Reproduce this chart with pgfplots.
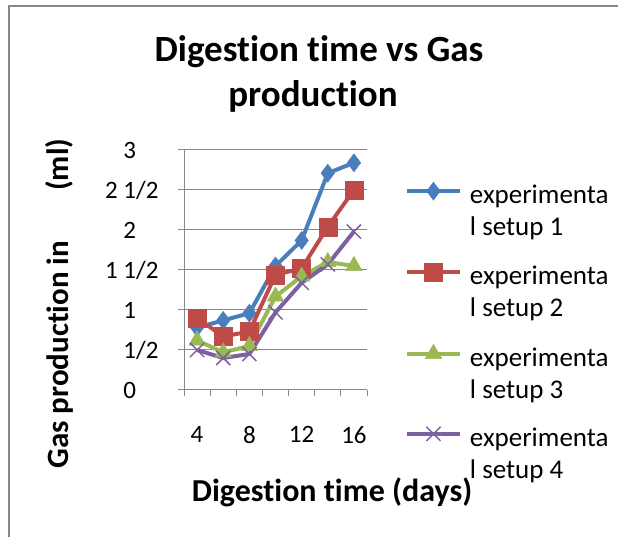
\documentclass[border=0pt]{standalone}
\usepackage{fontspec}
\setmainfont[Ligatures=NoCommon]{Carlito}
\usepackage{pgfplots}
\pgfplotsset{compat=1.18}
\definecolor{s1}{HTML}{4A7EBB}
\definecolor{s2}{HTML}{BE4B48}
\definecolor{s3}{HTML}{98B954}
\definecolor{s4}{HTML}{7D60A0}
\definecolor{gridc}{HTML}{878787}
\begin{document}
\begin{tikzpicture}
\useasboundingbox (0pt,0pt) rectangle (618pt,537pt);
\draw[gridc, line width=1.5pt] (9pt,0pt) -- (9pt,531pt) -- (618pt,531pt);
\node[font=\fontsize{37}{40}\bfseries, anchor=base] at (319pt,475pt) {Digestion time vs Gas};
\node[font=\fontsize{37}{40}\bfseries, anchor=base] at (313pt,430pt) {production};
\begin{axis}[
  at={(184pt,147pt)}, anchor=south west,
  width=183pt, height=240pt, scale only axis,
  xmin=3, xmax=17, ymin=0, ymax=3,
  axis lines*=left,
  axis line style={gridc, line width=1pt},
  xtick={3,5,...,17}, xticklabels={},
  extra x ticks={4,8,12,16}, extra x tick labels={4,8,12,16},
  extra x tick style={major tick length=0pt, grid=none, xticklabel style={yshift=-33pt}},
  ytick={0,0.5,...,3}, yticklabels={0\phantom{/2},1/2,1\phantom{/2},1 1/2,2\phantom{/2},2 1/2,3\phantom{/2}},
  ymajorgrids, grid style={gridc, line width=1pt},
  tick align=outside, major tick length=6pt, tick style={gridc, line width=1pt},
  tick label style={font=\fontsize{25}{29}\selectfont, text=black},
  yticklabel style={anchor=east, xshift=-16pt},
  xlabel={Digestion time (days)},
  xlabel style={font=\fontsize{32}{36}\bfseries, at={(axis description cs:0.809,-0.425)}, anchor=center},
  ylabel={Gas production in\hspace{50pt}(ml)},
  ylabel style={font=\fontsize{31}{35}\bfseries, at={(axis description cs:-0.68,0.36)}, anchor=center},
  legend style={at={(axis description cs:1.19,0.875)}, anchor=north west, draw=none, fill=none,
    font=\fontsize{27}{32}\selectfont, row sep=24pt, column sep=6pt, cells={align=left}},
  legend image code/.code={\draw[mark repeat=2,mark phase=2,#1] plot coordinates {(0pt,20pt) (26.5pt,20pt) (53pt,20pt)};},
  legend cell align=left,
  every axis plot/.append style={line width=4pt},
]
\addplot[s1, mark=diamond*, mark size=9pt, mark options={line width=0.5pt}] coordinates {(4,0.78) (6,0.87) (8,0.96) (10,1.55) (12,1.87) (14,2.71) (16,2.84)};
\addlegendentry{experimenta\\l setup 1}
\addplot[s2, mark=square*, mark size=9pt, mark options={line width=0.5pt}] coordinates {(4,0.90) (6,0.67) (8,0.73) (10,1.44) (12,1.52) (14,2.04) (16,2.50)};
\addlegendentry{experimenta\\l setup 2}
\addplot[s3, mark=triangle*, mark size=9.5pt, mark options={line width=0.5pt}] coordinates {(4,0.62) (6,0.47) (8,0.55) (10,1.17) (12,1.42) (14,1.60) (16,1.55)};
\addlegendentry{experimenta\\l setup 3}
\addplot[s4, mark=x, mark size=10pt, mark options={line width=1.5pt}] coordinates {(4,0.50) (6,0.40) (8,0.45) (10,0.97) (12,1.34) (14,1.57) (16,1.98)};
\addlegendentry{experimenta\\l setup 4}
\end{axis}
\end{tikzpicture}
\end{document}
